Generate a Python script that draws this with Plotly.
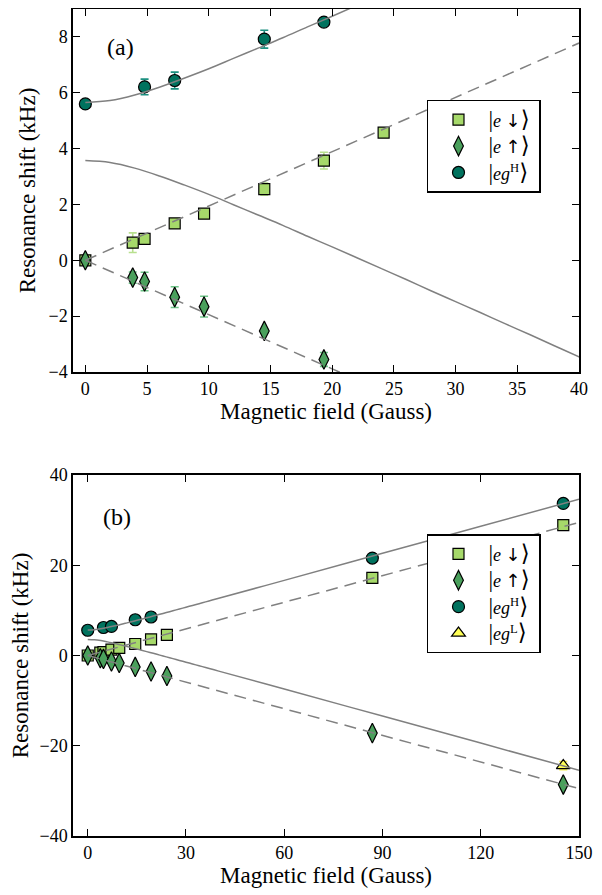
import plotly.graph_objects as go

# ---------------- data ----------------
# |e down>  (squares)
B_down = [0, 3.84, 4.8, 7.24, 9.62, 14.5, 19.33, 24.17, 86.9, 145.2]
E_down = [0, 0.63, 0.77, 1.32, 1.67, 2.55, 3.57, 4.57, 17.2, 28.9]
E_down_err = [0.05, 0.35, 0.06, 0.1, 0.1, 0.22, 0.3, 0.08, 0.3, 0.3]

# |e up>  (diamonds)
B_up = [0, 3.84, 4.8, 7.24, 9.62, 14.5, 19.33, 24.17, 86.9, 145.2]
E_up = [0, -0.62, -0.76, -1.32, -1.66, -2.53, -3.55, -4.55, -17.2, -28.6]
E_up_err = [0.08, 0.2, 0.33, 0.37, 0.37, 0.08, 0.25, 0.1, 0.3, 0.3]

# |eg^H>  (circles)
B_H = [0, 4.8, 7.24, 14.5, 19.33, 86.9, 145.2]
E_H = [5.6, 6.21, 6.44, 7.92, 8.53, 21.6, 33.7]
E_H_err = [0.05, 0.28, 0.3, 0.32, 0.12, 0.3, 0.3]

# |eg^L>  (triangle)
B_L = [145.2]
E_L = [-24.4]
E_L_err = [0.9]

# theory curves (solid, grey)
B_curve = [0, 2, 4, 6, 8, 10, 12, 14, 16, 18, 20, 22, 24, 26, 28, 30, 32, 34, 36, 38, 40,
           60, 90, 120, 150]
E_curve_hi = [5.65, 5.72, 5.92, 6.20, 6.52, 6.86, 7.23, 7.60, 7.97, 8.36, 8.74, 9.13, 9.52,
              9.91, 10.31, 10.70, 11.09, 11.49, 11.89, 12.28, 12.68,
              16.65, 22.64, 28.63, 34.63]
E_curve_lo = [3.57, 3.50, 3.30, 3.02, 2.70, 2.36, 1.99, 1.62, 1.25, 0.86, 0.48, 0.09, -0.30,
              -0.69, -1.09, -1.48, -1.87, -2.27, -2.66, -3.06, -3.46,
              -7.44, -13.42, -19.41, -25.41]

# linear Zeeman lines (dashed, grey): endpoints
B_lin_a = [0, 40]
E_lin_up_a = [0, 7.78]
E_lin_dn_a = [0, -7.78]
B_lin_b = [0, 150]
E_lin_up_b = [0, 29.5]
E_lin_dn_b = [0, -29.5]

# tick labels
xticks_a = [0, 5, 10, 15, 20, 25, 30, 35, 40]
yticks_a = [-4, -2, 0, 2, 4, 6, 8]
xticks_b = [0, 30, 60, 90, 120, 150]
yticks_b = [-40, -20, 0, 20, 40]

BL = "<span style='font-size:23px'>|</span>"
BR = "<span style='font-size:23px'>⟩</span>&nbsp;"
DN = "<span style='font-family:DejaVu Sans;color:black'>↓</span>"
UP = "<span style='font-family:DejaVu Sans;color:black'>↑</span>"
names = [BL + "<i>e</i> " + DN + BR, BL + "<i>e</i> " + UP + BR,
         BL + "<i>eg</i><sup>H</sup>" + BR, BL + "<i>eg</i><sup>L</sup>" + BR]

# ---------------- styling ----------------
FONT = "Liberation Serif, DejaVu Serif, serif"
GREY = "#808080"
SQ_FILL, SQ_ERR = "#a6d96a", "#b8e08e"
DI_FILL, DI_ERR = "#4aa05c", "#6cc486"
CI_FILL, CI_ERR = "#00725e", "#1c9080"
TR_FILL, TR_ERR = "#ffff55", "#f5f050"

fig = go.Figure()


def add_panel(xa, ya, legend, with_L):
    specs = [
        (B_down, E_down, E_down_err, "square", 11, SQ_FILL, SQ_ERR, names[0]),
        (B_up, E_up, E_up_err, "diamond-tall", 14, DI_FILL, DI_ERR, names[1]),
        (B_H, E_H, E_H_err, "circle", 12, CI_FILL, CI_ERR, names[2]),
    ]
    if with_L:
        specs.append((B_L, E_L, E_L_err, "triangle-up", 12, TR_FILL, TR_ERR, names[3]))
    for x, y, e, sym, size, fill, ecol, nm in specs:
        fig.add_trace(go.Scatter(
            x=x, y=y, mode="markers", name=nm, xaxis=xa, yaxis=ya, legend=legend,
            marker=dict(symbol=sym, size=size, color=fill,
                        line=dict(color="black", width=1.2)),
            error_y=dict(type="data", array=e, visible=True, color=ecol,
                         thickness=1.6, width=4),
        ))


def add_lines(xa, ya, Blin, up, dn):
    for yy in (up, dn):
        fig.add_trace(go.Scatter(x=Blin, y=yy, mode="lines", xaxis=xa, yaxis=ya, showlegend=False,
                                 line=dict(color=GREY, width=1.5, dash="12px,7px"), hoverinfo="skip"))
    for yy in (E_curve_hi, E_curve_lo):
        fig.add_trace(go.Scatter(x=B_curve, y=yy, mode="lines", xaxis=xa, yaxis=ya,
                                 showlegend=False, line=dict(color=GREY, width=1.5, shape="spline"),
                                 hoverinfo="skip"))


add_panel("x", "y", "legend", False)
add_lines("x", "y", B_lin_a, E_lin_up_a, E_lin_dn_a)
add_panel("x2", "y2", "legend2", True)
add_lines("x2", "y2", B_lin_b, E_lin_up_b, E_lin_dn_b)

axis_common = dict(
    showline=True, linecolor="black", linewidth=1.5, mirror="allticks",
    ticks="inside", ticklen=7, tickwidth=1.2, tickcolor="black",
    showgrid=False, zeroline=False, automargin=False,
    tickfont=dict(family=FONT, size=18, color="black"),
)
title_font = dict(family=FONT, size=23, color="black")

# the page body has an 8px margin, so the figure is drawn 8px smaller/offset
fig.update_layout(
    width=594, height=887,
    margin=dict(l=65, r=23, t=1, b=59, autoexpand=False),
    paper_bgcolor="white", plot_bgcolor="white",
    font=dict(family=FONT, color="black"),
    xaxis=dict(axis_common, domain=[0, 1], anchor="y", range=[-1, 40],
               tickvals=xticks_a, title=dict(text="Magnetic field (Gauss)", font=title_font, standoff=2)),
    yaxis=dict(axis_common, domain=[0.5611, 1], anchor="x", range=[-4, 9],
               tickvals=yticks_a, title=dict(text="Resonance shift (kHz)", font=title_font, standoff=6)),
    xaxis2=dict(axis_common, domain=[0, 1], anchor="y2", range=[-4.5, 150],
                tickvals=xticks_b, title=dict(text="Magnetic field (Gauss)", font=title_font, standoff=2)),
    yaxis2=dict(axis_common, domain=[0, 0.4365], anchor="x2", range=[-40, 40],
                tickvals=yticks_b, title=dict(text="Resonance shift (kHz)", font=title_font, standoff=6)),
    legend=dict(x=0.6996, y=0.89, xanchor="left", yanchor="top",
                bordercolor="black", borderwidth=1.5, bgcolor="white",
                font=dict(family=FONT, size=18, color="black"), itemwidth=50),
    legend2=dict(x=0.6996, y=0.365, xanchor="left", yanchor="top",
                 bordercolor="black", borderwidth=1.5, bgcolor="white",
                 font=dict(family=FONT, size=18, color="black"), itemwidth=50),
    annotations=[
        dict(text="(a)", x=0.093, y=0.954, xref="paper", yref="paper", showarrow=False,
             xanchor="center", yanchor="middle",
             font=dict(family=FONT, size=24, color="black")),
        dict(text="(b)", x=0.087, y=0.386, xref="paper", yref="paper", showarrow=False,
             xanchor="center", yanchor="middle",
             font=dict(family=FONT, size=24, color="black")),
    ],
    showlegend=True,
)

fig.write_html("out.html")
